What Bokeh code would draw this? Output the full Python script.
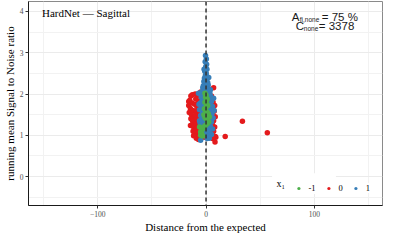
from bokeh.plotting import figure
from bokeh.models import (Range1d, FixedTicker, Span, Legend, LegendItem, Label, BoxAnnotation)
from bokeh.core.properties import value
from bokeh.embed import file_html
from bokeh.resources import INLINE

categories = ["-1", "0", "1"]
colors = ["#4DAF4A", "#E41A1C", "#377EB8"]

x_ticks = [-100, 0, 100]
x_minor = [-150, -50, 50, 150]
y_ticks = [0, 1, 2, 3, 4]
y_minor = [-0.5, 0.5, 1.5, 2.5, 3.5]

# x1 = 0 (red)
red_x = [-14, -12.7, -16, -15, -13, -16, -14.5, -12, -15.5, -13.5, -11, -14, -12.5, -10, -14.4, -13, -11.5, -9, -12, -10, -8, -11.5, -9, -7,
         -10, -8, -9.5, -7, -10.5, -8.5, -6.5, -9, -7.5, -10, -6, -8.5, -7, -9.5, -6, -8, -5.5, -7, -5, -6, -4,
         -5, -3, -4.5, -2.5, -4, -2, -3.5, -1.5, -3, -2, -4, -2.5, -1.5,
         3, 5, 7, 4, 6.5, 8, 5.5, 7.5, 6, 8.5, 5, 7, 6, 8, 4.5, 7, 5.5, 3.5, 8.5, 9, 8.3, 6, 2, 1, 3, 2,
         33.6, 56.6, 17.7]
red_y = [1.95, 1.98, 1.82, 1.85, 1.78, 1.72, 1.65, 1.6, 1.55, 1.5, 1.45, 1.4, 1.35, 1.3, 1.24, 1.25, 1.2, 1.15, 1.1, 1.05, 1.0, 0.99, 0.93, 0.9,
         2.0, 1.95, 1.88, 1.82, 1.75, 1.7, 1.65, 1.58, 1.52, 1.48, 1.42, 1.38, 1.32, 1.27, 1.22, 1.18, 1.12, 1.08, 1.03, 0.98, 0.95,
         2.05, 1.98, 1.9, 1.8, 1.7, 1.6, 1.5, 1.4, 1.3, 1.2, 1.1, 1.02, 0.95,
         2.0, 1.95, 2.15, 1.85, 1.8, 1.72, 1.65, 1.58, 1.5, 1.45, 1.4, 1.35, 1.25, 1.2, 1.15, 1.1, 1.05, 1.0, 0.97, 0.95, 0.84, 0.92, 1.55, 1.7, 1.3, 1.05,
         1.34, 1.06, 0.97]

# x1 = 1 (blue)
blue_x = [-0.5, 0.3, -0.8, 0.5, -0.3, 0.8, -1.2, 0.2, -0.6, 1.0, -1.5, 0.4, -2.0, 1.5, -0.8, 2.0, -2.5, 0.0, -3.0, 2.8, -1.5, 1.2,
          -4.0, 3.5, -2.8, 0.5, 4.2, -4.5, -1.0, 2.5, -3.5, 5.0, 0.8, -5.2, 3.2, -2.2, 6.0, -4.0, 1.8, -6.0, 4.5, -1.5, -3.0,
          5.5, 2.5, -5.0, 0.0, 6.5, -3.8, 3.5, -2.0, 5.0, -5.5, 1.5, -1.0, 4.0, -4.0, 2.0, 6.0, -3.0, 0.5, 3.0, -2.0, 5.0,
          -1.0, 2.0, -5.0, 1.0, 3.0, -3.5, -6.5, 4.0, 2.5, -1.8, -7.0, 7.0, -6.0, 7.5]
blue_y = [2.93, 2.85, 2.78, 2.72, 2.66, 2.6, 2.55, 2.5, 2.45, 2.42, 2.38, 2.34, 2.3, 2.28, 2.25, 2.22, 2.2, 2.18, 2.15, 2.12, 2.1, 2.08,
          2.05, 2.03, 2.0, 1.98, 1.95, 1.93, 1.9, 1.88, 1.85, 1.82, 1.8, 1.78, 1.75, 1.72, 1.7, 1.68, 1.65, 1.62, 1.6, 1.58, 1.55,
          1.52, 1.5, 1.48, 1.45, 1.42, 1.4, 1.38, 1.35, 1.32, 1.3, 1.28, 1.25, 1.22, 1.2, 1.18, 1.15, 1.12, 1.1, 1.08, 1.05, 1.02,
          1.0, 0.97, 0.88, 0.92, 0.93, 1.95, 1.75, 2.1, 2.4, 2.6, 2.02, 1.9, 1.35, 1.6]

# x1 = -1 (green)
green_x = [-1, 0, -0.5, 1, 0.5, -1, 0.5, 1.5, 0, -1.5, -0.5, 1, 2, 0.5, -1, 0, 1.5, 2.5, 1, -0.5, -2, -3, -4, -5, -4, -5, -3, -6, 3, -2]
green_y = [2.02, 1.97, 1.92, 1.88, 1.84, 1.8, 1.76, 1.72, 1.68, 1.64, 1.6, 1.56, 1.52, 1.48, 1.44, 1.4, 1.36, 1.32, 1.28, 1.24,
           1.2, 1.16, 1.12, 1.08, 1.04, 1.0, 0.98, 1.2, 1.45, 1.5]

SERIF = "Liberation Serif"
SANS = "Liberation Sans"

p = figure(width=383, height=235, output_backend="svg", toolbar_location=None,
           x_range=Range1d(-164, 163), y_range=Range1d(-0.70, 4.24),
           min_border_left=2, min_border_right=1, min_border_top=1, min_border_bottom=0)

p.background_fill_color = "white"
p.border_fill_color = "white"
p.outline_line_color = "#8a8a8a"
p.outline_line_width = 1

p.xaxis.ticker = FixedTicker(ticks=x_ticks, minor_ticks=x_minor)
p.yaxis.ticker = FixedTicker(ticks=y_ticks, minor_ticks=y_minor)
for g in (p.xgrid, p.ygrid):
    g.grid_line_color = "#EBEBEB"
    g.grid_line_width = 1
    g.minor_grid_line_color = "#F2F2F2"
    g.minor_grid_line_width = 1

for ax in (p.xaxis, p.yaxis):
    ax.axis_line_color = "#1a1a1a"
    ax.axis_line_width = 1
    ax.major_tick_line_color = "#333333"
    ax.major_tick_out = 3
    ax.major_tick_in = 0
    ax.minor_tick_out = 0
    ax.minor_tick_in = 0
    ax.major_label_text_font = SERIF
    ax.major_label_text_font_size = "7.5px"
    ax.major_label_text_color = "#4d4d4d"
    ax.major_label_standoff = 2
    ax.axis_label_text_font = SERIF
    ax.axis_label_text_font_size = "11px"
    ax.axis_label_text_font_style = "normal"
    ax.axis_label_text_color = "black"
    ax.axis_label_standoff = 1

p.xaxis.axis_label = "Distance from the expected"
p.yaxis.axis_label = "running mean Signal to Noise ratio"

p.add_layout(Span(location=0, dimension="height", line_color="#333333",
                  line_dash="4 3", line_width=1.5))

r_red = p.scatter(red_x, red_y, size=5.5, color=colors[1], line_width=0)
r_blue = p.scatter(blue_x, blue_y, size=5.5, color=colors[2], line_width=0)
r_green = p.scatter(green_x, green_y, size=5.5, color=colors[0], line_width=0)

# title inside panel
p.text(x=[-151.5], y=[3.96], text=["HardNet \u2014 Sagittal"], text_font=value(SERIF),
       text_font_size="11px", text_align="left", text_baseline="middle", text_color="black")

# annotation with subscripts
ax_ = 109.7
ann = dict(text_align="left", text_baseline="middle", text_color="#1a1a1a", text_font=value(SANS))
p.text(x=[ax_], y=[3.87], text=["A"], x_offset=-33, text_font_size="11.5px", **ann)
p.text(x=[ax_], y=[3.87], text=["fi,none"], x_offset=-25, y_offset=3, text_font_size="6.5px", **ann)
p.text(x=[ax_], y=[3.87], text=["= 75 %"], x_offset=-3, text_font_size="11.5px", **ann)
p.text(x=[ax_], y=[3.65], text=["C"], x_offset=-29, text_font_size="11.5px", **ann)
p.text(x=[ax_], y=[3.65], text=["none"], x_offset=-21, y_offset=3, text_font_size="6.5px", **ann)
p.text(x=[ax_], y=[3.65], text=["= 3378"], x_offset=-6, text_font_size="11.5px", **ann)

# white background extending the legend to the left, for its title
p.add_layout(BoxAnnotation(left=61, right=120, bottom=-0.42, top=0.08, fill_color="white",
                           fill_alpha=1, line_color=None, level="annotation"))

legend = Legend(items=[LegendItem(label=categories[0], renderers=[r_green]),
                       LegendItem(label=categories[1], renderers=[r_red]),
                       LegendItem(label=categories[2], renderers=[r_blue])],
                orientation="horizontal", location="bottom_right")
legend.label_text_font = SERIF
legend.label_text_font_size = "8.5px"
legend.label_text_color = "black"
legend.glyph_width = 8
legend.glyph_height = 8
legend.label_width = 4
legend.label_height = 10
legend.label_standoff = 6
legend.spacing = 9
legend.padding = 5
legend.margin = 12
legend.border_line_color = None
legend.background_fill_color = "white"
legend.background_fill_alpha = 1
p.add_layout(legend)

p.add_layout(Label(x=65, y=-0.17, text="x\u2081", text_font=SERIF, text_font_size="10px",
                   text_baseline="middle", text_align="left", text_color="black"))

open("out.html", "w").write(file_html(p, INLINE))
